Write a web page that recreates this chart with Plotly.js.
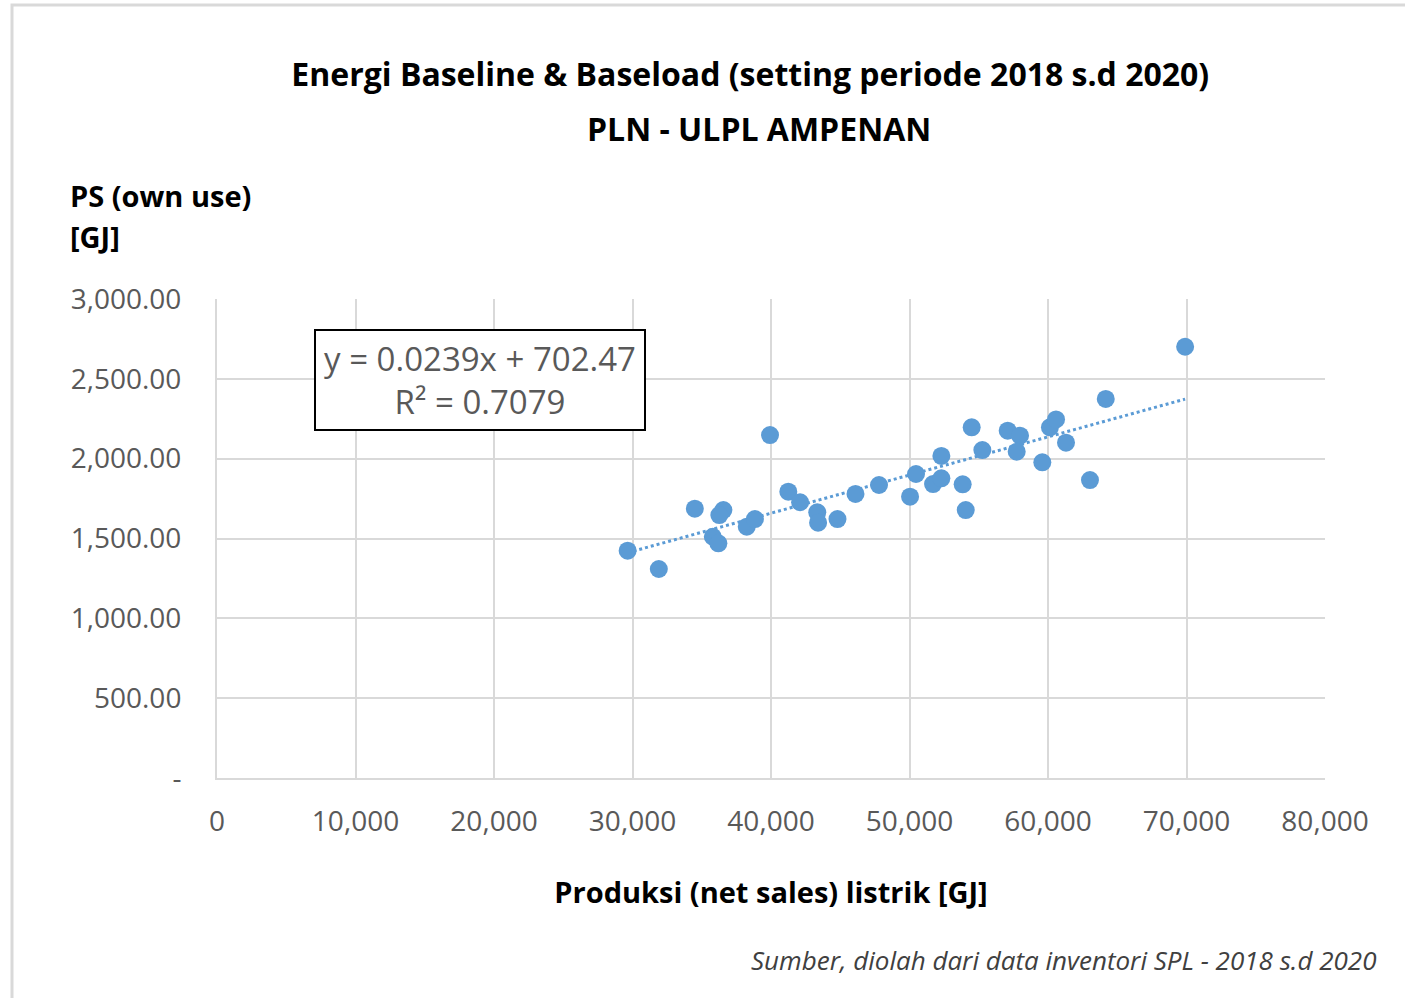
<!DOCTYPE html>
<html>
<head>
<meta charset="utf-8">
<script src="https://cdn.plot.ly/plotly-3.0.1.min.js"></script>
<style>
html, body { margin: 0; padding: 0; background: #ffffff; }
#chart { width: 1405px; height: 998px; }
</style>
</head>
<body>
<div id="chart"></div>
<script>
// Produksi (net sales) listrik [GJ]
const produksi = [
  29650, 31900, 34500, 36560, 36270, 35800, 36200, 39930, 38250, 38840,
  41250, 42100, 43340, 43400, 44800, 46100, 47800, 50040, 50470, 51700,
  52300, 52300, 53840, 54060, 54490, 55260, 57090, 57980, 57740, 59590,
  60140, 60580, 61300, 63030, 64170, 69900
];
// PS (own use) [GJ]
const psOwnUse = [
  1424, 1309, 1687, 1678, 1647, 1511, 1470, 2148, 1574, 1622,
  1793, 1727, 1664, 1599, 1622, 1779, 1835, 1762, 1904, 1841,
  1877, 2017, 1839, 1678, 2196, 2054, 2175, 2144, 2044, 1977,
  2196, 2246, 2100, 1866, 2374, 2701
];
// Linear trendline (from the chart's equation)
const trendSlope = 0.0239;
const trendIntercept = 702.47;
const trendLabel = "y = 0.0239x + 702.47<br>R² = 0.7079";

const xTickVals = [0, 10000, 20000, 30000, 40000, 50000, 60000, 70000, 80000];
const xTickText = ["0", "10,000", "20,000", "30,000", "40,000", "50,000", "60,000", "70,000", "80,000"];
const yTickVals = [0, 500, 1000, 1500, 2000, 2500, 3000];
const yTickText = ["-", "500.00", "1,000.00", "1,500.00", "2,000.00", "2,500.00", "3,000.00"];

const titleLine1 = "Energi Baseline & Baseload (setting periode 2018 s.d 2020)";
const titleLine2 = "PLN - ULPL AMPENAN";
const yTitle1 = "PS (own use)";
const yTitle2 = "[GJ]";
const xTitle = "Produksi (net sales) listrik [GJ]";
const sourceText = "Sumber, diolah dari data inventori SPL - 2018 s.d 2020";

const xMin = Math.min(...produksi);
const xMax = Math.max(...produksi);
const trendX = [xMin, xMax];
const trendY = trendX.map(v => trendSlope * v + trendIntercept);

const FONT = "'Open Sans', Lato, sans-serif";
const BLUE = "#5B9BD5";
const GRID = "#d9d9d9";

const traces = [
  {
    x: trendX, y: trendY, type: "scatter", mode: "lines",
    line: { color: BLUE, width: 3, dash: "dot" },
    hoverinfo: "skip", showlegend: false
  },
  {
    x: produksi, y: psOwnUse, type: "scatter", mode: "markers",
    marker: { color: BLUE, size: 18 },
    showlegend: false
  }
];

const layout = {
  width: 1405, height: 998,
  margin: { l: 217, r: 80, t: 299, b: 220 },
  paper_bgcolor: "#ffffff", plot_bgcolor: "#ffffff",
  font: { family: FONT, color: "#595959" },
  showlegend: false,
  title: {
    text: "<b>" + titleLine1 + "</b>",
    font: { family: FONT, size: 32, color: "#000000" },
    x: 0.534, xanchor: "center", xref: "container",
    y: 1 - 75 / 998, yanchor: "middle", yref: "container"
  },
  xaxis: {
    range: [0, 80000],
    tickvals: xTickVals, ticktext: xTickText,
    tickfont: { family: FONT, size: 28, color: "#595959" },
    showgrid: true, gridcolor: GRID, gridwidth: 2,
    showline: true, linecolor: GRID, linewidth: 2,
    zeroline: false, ticks: "", ticklabelstandoff: 17,
    title: {
      text: "<b>" + xTitle + "</b>",
      font: { family: FONT, size: 29, color: "#000000" },
      standoff: 45
    },
    fixedrange: true
  },
  yaxis: {
    range: [0, 3000],
    tickvals: yTickVals, ticktext: yTickText,
    tickfont: { family: FONT, size: 28, color: "#595959" },
    showgrid: true, gridcolor: GRID, gridwidth: 2,
    showline: true, linecolor: GRID, linewidth: 2,
    zeroline: false, ticks: "", ticklabelstandoff: 28,
    fixedrange: true
  },
  shapes: [
    {
      type: "rect", xref: "paper", yref: "paper",
      x0: (12 - 217) / 1108, x1: (1420 - 217) / 1108,
      y0: (778 - 1010) / 479, y1: (778 - 5) / 479,
      line: { color: GRID, width: 3 }, fillcolor: "rgba(0,0,0,0)", layer: "below"
    }
  ],
  annotations: [
    {
      text: "<b>" + titleLine2 + "</b>", showarrow: false,
      xref: "paper", yref: "paper",
      x: (758.5 - 217) / 1108, y: (778 - 129) / 479,
      xanchor: "center", yanchor: "middle",
      font: { family: FONT, size: 32, color: "#000000" }
    },
    {
      text: "<b>" + yTitle1 + "</b>", showarrow: false,
      xref: "paper", yref: "paper",
      x: (68 - 217) / 1108, y: (778 - 195) / 479,
      xanchor: "left", yanchor: "middle",
      font: { family: FONT, size: 29, color: "#000000" }
    },
    {
      text: "<b>" + yTitle2 + "</b>", showarrow: false,
      xref: "paper", yref: "paper",
      x: (68 - 217) / 1108, y: (778 - 237) / 479,
      xanchor: "left", yanchor: "middle",
      font: { family: FONT, size: 29, color: "#000000" }
    },
    {
      text: "<i>" + sourceText + "</i>", showarrow: false,
      xref: "paper", yref: "paper",
      x: (1378 - 217) / 1108, y: (778 - 960) / 479,
      xanchor: "right", yanchor: "middle",
      font: { family: FONT, size: 26, color: "#404040" }
    },
    {
      text: trendLabel, showarrow: false, align: "center",
      xref: "paper", yref: "paper",
      x: (479.5 - 217) / 1108, y: (778 - 379.5) / 479,
      xanchor: "center", yanchor: "middle",
      width: 322, height: 92, borderpad: 3,
      bgcolor: "#ffffff", bordercolor: "#000000", borderwidth: 2,
      font: { family: FONT, size: 33, color: "#595959" }
    }
  ]
};

Plotly.newPlot("chart", traces, layout, { displayModeBar: false, staticPlot: true });
</script>
</body>
</html>
